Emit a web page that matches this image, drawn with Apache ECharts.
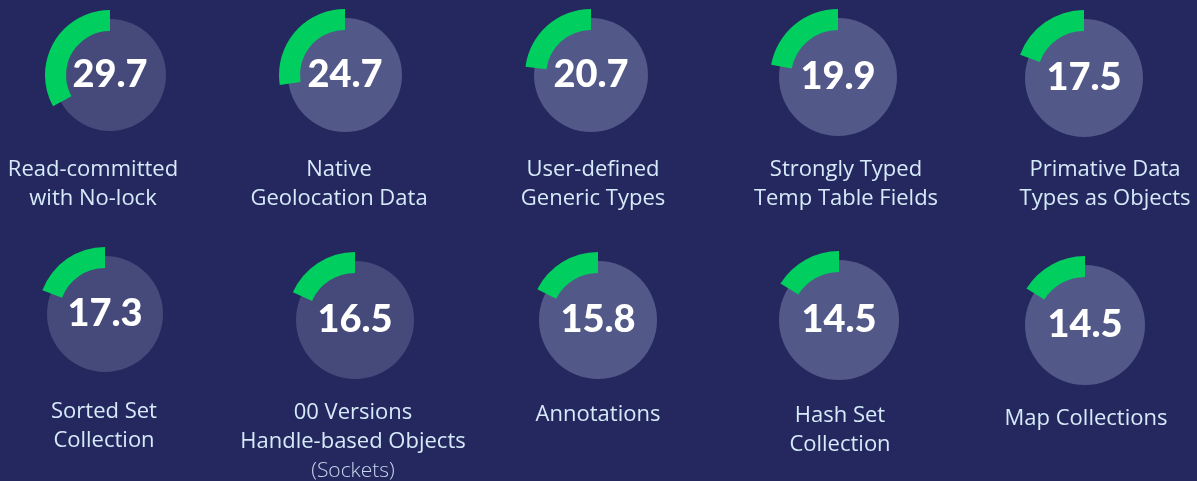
<!DOCTYPE html>
<html>
<head>
<meta charset="utf-8">
<title>Feature gauges</title>
<script src="https://cdn.jsdelivr.net/npm/echarts@6/dist/echarts.min.js"></script>
<style>
  html, body { margin: 0; padding: 0; background: #24285e; }
  #main { width: 1197px; height: 481px; }
</style>
</head>
<body>
<div id="main"></div>
<script>
// data
var names = [
    'Read-committed\nwith No-lock',
    'Native\nGeolocation Data',
    'User-defined\nGeneric Types',
    'Strongly Typed\nTemp Table Fields',
    'Primative Data\nTypes as Objects',
    'Sorted Set\nCollection',
    '00 Versions\nHandle-based Objects',
    'Annotations',
    'Hash Set\nCollection',
    'Map Collections'
];
var notes = ['', '', '', '', '', '', '(Sockets)', '', '', ''];
var values = [29.7, 24.7, 20.7, 19.9, 17.5, 17.3, 16.5, 15.8, 14.5, 14.5];
var scaleMax = 90;

// layout (pixels)
var circleX = [110, 345, 591, 838, 1084, 105, 355, 598, 839, 1085];
var circleY = [75, 75, 75, 77, 78, 314, 320, 320, 320, 325];
var circleR = [56, 57, 57, 59, 59, 58, 59, 59, 60, 60];
var labelX = [93, 339, 593, 846, 1105, 104, 353, 598, 840, 1086];
var labelY = [170, 170, 170, 170, 170, 412, 413, 415, 416, 419];
var circleColor = ['#454a7a', '#525989', '#525989', '#525989', '#525989',
                   '#454a7a', '#454a7a', '#525989', '#525989', '#525989'];

var myChart = echarts.init(document.getElementById('main'));

var polar = [], angleAxis = [], radiusAxis = [], series = [], graphic = [];
for (var i = 0; i < values.length; i++) {
    var r = circleR[i];
    polar.push({ center: [circleX[i], circleY[i]], radius: [r - 12, r + 9] });
    angleAxis.push({
        polarIndex: i, type: 'value', min: 0, max: scaleMax,
        startAngle: 90, clockwise: false, show: false
    });
    radiusAxis.push({ polarIndex: i, type: 'category', data: [''], show: false });

    // disc with the value in the middle
    series.push({
        type: 'pie',
        z: 1,
        silent: true,
        center: [circleX[i], circleY[i]],
        radius: [0, r],
        itemStyle: { color: circleColor[i] },
        label: {
            position: 'center',
            formatter: '{c}',
            color: '#ffffff',
            fontFamily: 'Lato',
            fontWeight: 900,
            fontSize: 38
        },
        labelLine: { show: false },
        emphasis: { disabled: true },
        data: [{ value: values[i], name: names[i] }]
    });
    // green arc
    series.push({
        type: 'bar',
        z: 3,
        silent: true,
        coordinateSystem: 'polar',
        polarIndex: i,
        barCategoryGap: '0%',
        itemStyle: { color: '#00cf60' },
        data: [values[i]]
    });

    var txt = names[i];
    if (notes[i]) txt = names[i] + '\n{n|' + notes[i] + '}';
    graphic.push({
        type: 'text',
        x: labelX[i],
        y: labelY[i] - 14.5,
        silent: true,
        style: {
            text: txt,
            fill: '#d6eafa',
            font: '500 22px "Open Sans"',
            align: 'center',
            verticalAlign: 'top',
            lineHeight: 29,
            rich: {
                n: { fill: '#c6d6ee', font: '300 21px "Open Sans"', lineHeight: 29 }
            }
        }
    });
}

option = {
    backgroundColor: '#24285e',
    animation: false,
    polar: polar,
    angleAxis: angleAxis,
    radiusAxis: radiusAxis,
    series: series,
    graphic: graphic
};
myChart.setOption(option);
window.addEventListener("resize", function () {
    myChart.resize();
});
</script>
</body>
</html>
